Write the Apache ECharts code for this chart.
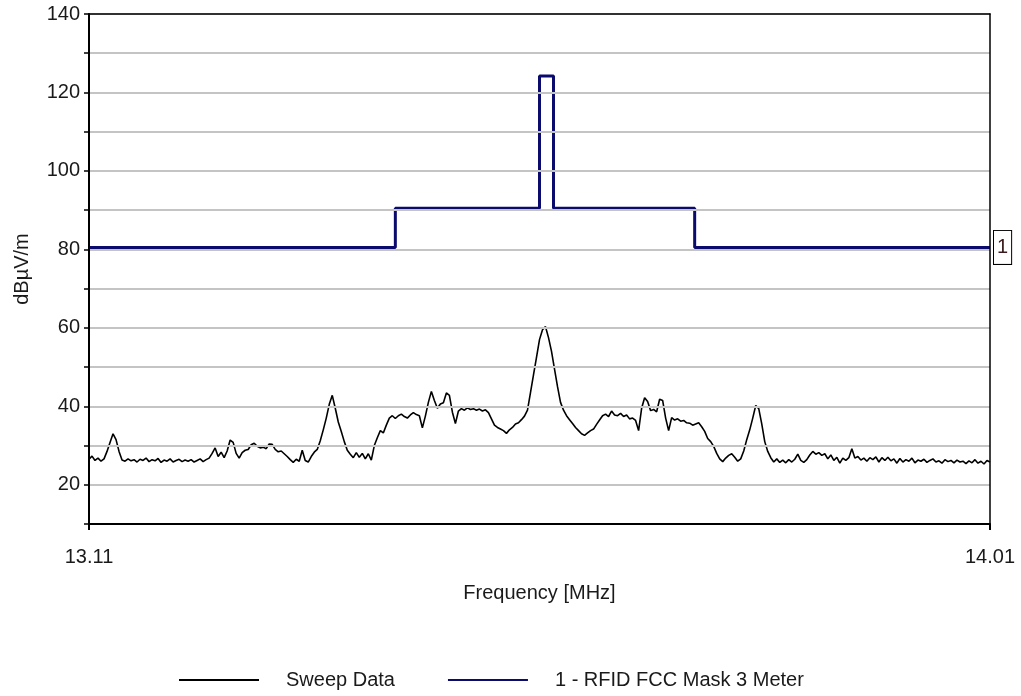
<!DOCTYPE html>
<html>
<head>
<meta charset="utf-8">
<script src="https://cdn.jsdelivr.net/npm/echarts@6/dist/echarts.min.js"></script>
<style>
html,body{margin:0;padding:0;background:#fff;}
#chart{width:1021px;height:696px;}
</style>
</head>
<body>
<div id="chart"></div>
<script>
// ---- Data ----
const xTickLabels = [13.11, 14.01];
const yLabelValues = [20, 40, 60, 80, 100, 120, 140];

const maskFreq  = [13.11, 13.416, 13.416, 13.560, 13.560, 13.574, 13.574, 13.715, 13.715, 14.01];
const maskLevel = [80.5, 80.5, 90.5, 90.5, 124.2, 124.2, 90.5, 90.5, 80.5, 80.5];

const sweepFreq = [
13.110,13.113,13.116,13.119,13.122,13.125,13.128,13.131,13.134,13.137,
13.140,13.143,13.146,13.149,13.152,13.155,13.158,13.161,13.164,13.167,
13.170,13.173,13.176,13.179,13.182,13.185,13.188,13.191,13.194,13.197,
13.200,13.203,13.206,13.209,13.212,13.215,13.218,13.221,13.224,13.227,
13.230,13.233,13.236,13.239,13.242,13.245,13.248,13.251,13.254,13.257,
13.260,13.263,13.266,13.269,13.272,13.275,13.278,13.281,13.284,13.287,
13.290,13.293,13.296,13.299,13.302,13.305,13.308,13.311,13.314,13.317,
13.320,13.323,13.326,13.329,13.332,13.335,13.338,13.341,13.344,13.347,
13.350,13.353,13.356,13.359,13.362,13.365,13.368,13.371,13.374,13.377,
13.380,13.383,13.386,13.389,13.392,13.395,13.398,13.401,13.404,13.407,
13.410,13.413,13.416,13.419,13.422,13.425,13.428,13.431,13.434,13.437,
13.440,13.443,13.446,13.449,13.452,13.455,13.458,13.461,13.464,13.467,
13.470,13.473,13.476,13.479,13.482,13.485,13.488,13.491,13.494,13.497,
13.500,13.503,13.506,13.509,13.512,13.515,13.518,13.521,13.524,13.527,
13.530,13.533,13.536,13.539,13.542,13.545,13.548,13.551,13.554,13.557,
13.560,13.563,13.566,13.569,13.572,13.575,13.578,13.581,13.584,13.587,
13.590,13.593,13.596,13.599,13.602,13.605,13.608,13.611,13.614,13.617,
13.620,13.623,13.626,13.629,13.632,13.635,13.638,13.641,13.644,13.647,
13.650,13.653,13.656,13.659,13.662,13.665,13.668,13.671,13.674,13.677,
13.680,13.683,13.686,13.689,13.692,13.695,13.698,13.701,13.704,13.707,
13.710,13.713,13.716,13.719,13.722,13.725,13.728,13.731,13.734,13.737,
13.740,13.743,13.746,13.749,13.752,13.755,13.758,13.761,13.764,13.767,
13.770,13.773,13.776,13.779,13.782,13.785,13.788,13.791,13.794,13.797,
13.800,13.803,13.806,13.809,13.812,13.815,13.818,13.821,13.824,13.827,
13.830,13.833,13.836,13.839,13.842,13.845,13.848,13.851,13.854,13.857,
13.860,13.863,13.866,13.869,13.872,13.875,13.878,13.881,13.884,13.887,
13.890,13.893,13.896,13.899,13.902,13.905,13.908,13.911,13.914,13.917,
13.920,13.923,13.926,13.929,13.932,13.935,13.938,13.941,13.944,13.947,
13.950,13.953,13.956,13.959,13.962,13.965,13.968,13.971,13.974,13.977,
13.980,13.983,13.986,13.989,13.992,13.995,13.998,14.001,14.004,14.007,
14.010
];

const sweepLevel = [
26.5,27.3,26.2,26.8,26.0,26.6,28.5,30.8,33.0,31.5,
28.5,26.3,26.0,26.6,26.1,26.4,25.8,26.5,26.2,26.8,
25.9,26.4,26.1,26.7,25.7,26.3,26.0,26.6,25.8,26.2,
26.5,25.9,26.3,26.0,26.4,25.8,26.2,26.6,25.9,26.4,
26.8,28.0,29.4,27.2,28.3,26.9,28.6,31.4,30.8,28.0,
26.8,28.2,28.8,29.0,30.2,30.6,29.8,29.4,29.6,29.2,
30.4,30.3,29.0,28.4,28.6,27.9,27.2,26.4,25.7,26.5,
26.0,28.8,26.2,25.8,27.2,28.3,29.0,31.2,34.0,37.0,
40.5,42.8,39.5,36.0,33.6,31.0,28.8,27.8,26.9,28.2,
27.0,28.0,26.6,27.9,26.3,30.0,32.0,33.8,33.2,35.2,
37.0,37.6,36.9,37.6,38.0,37.4,37.0,37.8,38.4,37.9,
37.6,34.5,37.5,41.0,43.8,41.5,39.5,40.6,40.9,43.4,
42.8,38.5,35.6,38.8,39.4,39.0,39.6,39.2,39.4,39.0,
39.3,38.8,39.1,38.4,36.8,35.2,34.6,34.2,33.8,33.1,
34.0,34.6,35.5,35.8,36.6,37.5,39.0,43.5,48.0,52.5,
57.0,59.5,60.3,57.5,54.0,49.5,45.0,41.0,39.0,37.6,
36.6,35.6,34.6,33.8,33.0,32.6,33.2,33.8,34.2,35.4,
36.5,37.6,38.0,37.4,38.8,37.8,37.6,38.2,37.4,37.8,
36.8,37.0,36.4,33.8,39.5,42.2,41.2,38.9,39.2,38.6,
41.8,41.5,37.0,33.8,37.1,36.5,36.8,36.2,36.4,35.8,
35.7,35.2,35.5,35.8,34.8,33.6,31.8,31.0,29.8,28.0,
26.6,25.9,26.8,27.5,27.9,27.0,26.0,26.6,28.6,31.5,
34.0,37.0,40.2,39.4,35.5,31.0,28.5,26.9,25.8,26.6,
25.7,26.3,25.6,26.4,25.8,26.5,27.8,26.2,25.7,26.4,
27.6,28.5,27.8,28.2,27.5,27.9,26.6,27.6,26.2,27.0,
25.5,26.8,26.2,26.9,29.2,26.8,27.2,26.3,26.8,26.0,
26.9,26.4,27.1,25.8,26.9,26.2,27.0,26.1,26.6,25.5,
26.7,25.8,26.4,26.0,26.8,25.6,26.3,26.0,26.5,25.7,
26.2,26.6,25.8,26.1,25.5,26.4,25.9,26.2,25.6,26.3,
25.8,26.0,25.4,26.1,25.6,26.4,25.5,26.0,25.3,26.2,
25.8
];

const sweepName = 'Sweep Data';
const maskName = '1 - RFID FCC Mask 3 Meter';
const maskTag = '1';

// ---- Chart ----
const chart = echarts.init(document.getElementById('chart'), null, {renderer: 'canvas'});
const FONT = 'Liberation Sans, Arial, sans-serif';
const FS = 20;
const TXT = '#1a1a1a';

const xMin = xTickLabels[0];
const xMax = xTickLabels[xTickLabels.length - 1];

const option = {
  animation: false,
  backgroundColor: '#ffffff',
  textStyle: {fontFamily: FONT},
  grid: {left: 89, right: 31, top: 14, bottom: 172},
  legend: {
    bottom: 1,
    left: 173,
    itemWidth: 80,
    itemHeight: 14,
    itemGap: 52,
    itemStyle: {opacity: 0},
    textStyle: {fontSize: FS, color: TXT, fontFamily: FONT, padding: [0, 0, 0, 22]},
    data: [sweepName, maskName]
  },
  xAxis: [
    {
      type: 'value',
      min: xMin, max: xMax,
      name: 'Frequency [MHz]',
      nameLocation: 'middle',
      nameGap: 59,
      nameTextStyle: {fontSize: FS, color: TXT, fontFamily: FONT},
      axisLine: {show: true, onZero: false, lineStyle: {color: '#000', width: 2}},
      axisTick: {show: true, customValues: xTickLabels, length: 6, lineStyle: {color: '#000', width: 2}},
      axisLabel: {
        customValues: xTickLabels,
        formatter: v => v.toFixed(2),
        margin: 23, fontSize: FS, color: TXT, fontFamily: FONT
      },
      splitLine: {show: false},
      z: 5
    },
    {
      type: 'value',
      position: 'top',
      min: xMin, max: xMax,
      axisLine: {show: true, onZero: false, lineStyle: {color: '#000', width: 1.5}},
      axisTick: {show: false},
      axisLabel: {show: false},
      splitLine: {show: false},
      z: 5
    }
  ],
  yAxis: [
    {
      type: 'value',
      min: 10, max: 140, interval: 10,
      name: 'dBµV/m',
      nameLocation: 'middle',
      nameGap: 57,
      nameTextStyle: {fontSize: FS, color: TXT, fontFamily: FONT},
      axisLine: {show: true, lineStyle: {color: '#000', width: 2}},
      axisTick: {show: true, length: 5, lineStyle: {color: '#000', width: 1.5}},
      axisLabel: {
        formatter: v => (yLabelValues.indexOf(v) >= 0 ? String(v) : ''),
        margin: 9, fontSize: FS, color: TXT, fontFamily: FONT
      },
      splitLine: {show: true, lineStyle: {color: '#c4c4c4', width: 2}},
      z: 5
    },
    {
      type: 'value',
      position: 'right',
      min: 10, max: 140, interval: 10,
      axisLine: {show: true, lineStyle: {color: '#000', width: 1.5}},
      axisTick: {show: false},
      axisLabel: {show: false},
      splitLine: {show: false},
      z: 5
    }
  ],
  series: [
    {
      name: sweepName,
      type: 'line',
      symbol: 'none',
      data: sweepFreq.map((f, i) => [f, sweepLevel[i]]),
      lineStyle: {color: '#000', width: 1.6},
      itemStyle: {color: '#000'},
      z: 3
    },
    {
      name: maskName,
      type: 'line',
      symbol: 'none',
      data: maskFreq.map((f, i) => [f, maskLevel[i]]),
      lineStyle: {color: '#0b0b6e', width: 3},
      itemStyle: {color: '#0b0b6e'},
      z: 4,
      endLabel: {
        show: true,
        formatter: maskTag,
        distance: 4,
        fontSize: FS,
        color: '#3a1a1a',
        fontFamily: FONT,
        backgroundColor: '#fff',
        borderColor: '#000',
        borderWidth: 1,
        padding: [7, 3, 6, 3]
      }
    }
  ]
};
chart.setOption(option);
</script>
</body>
</html>
